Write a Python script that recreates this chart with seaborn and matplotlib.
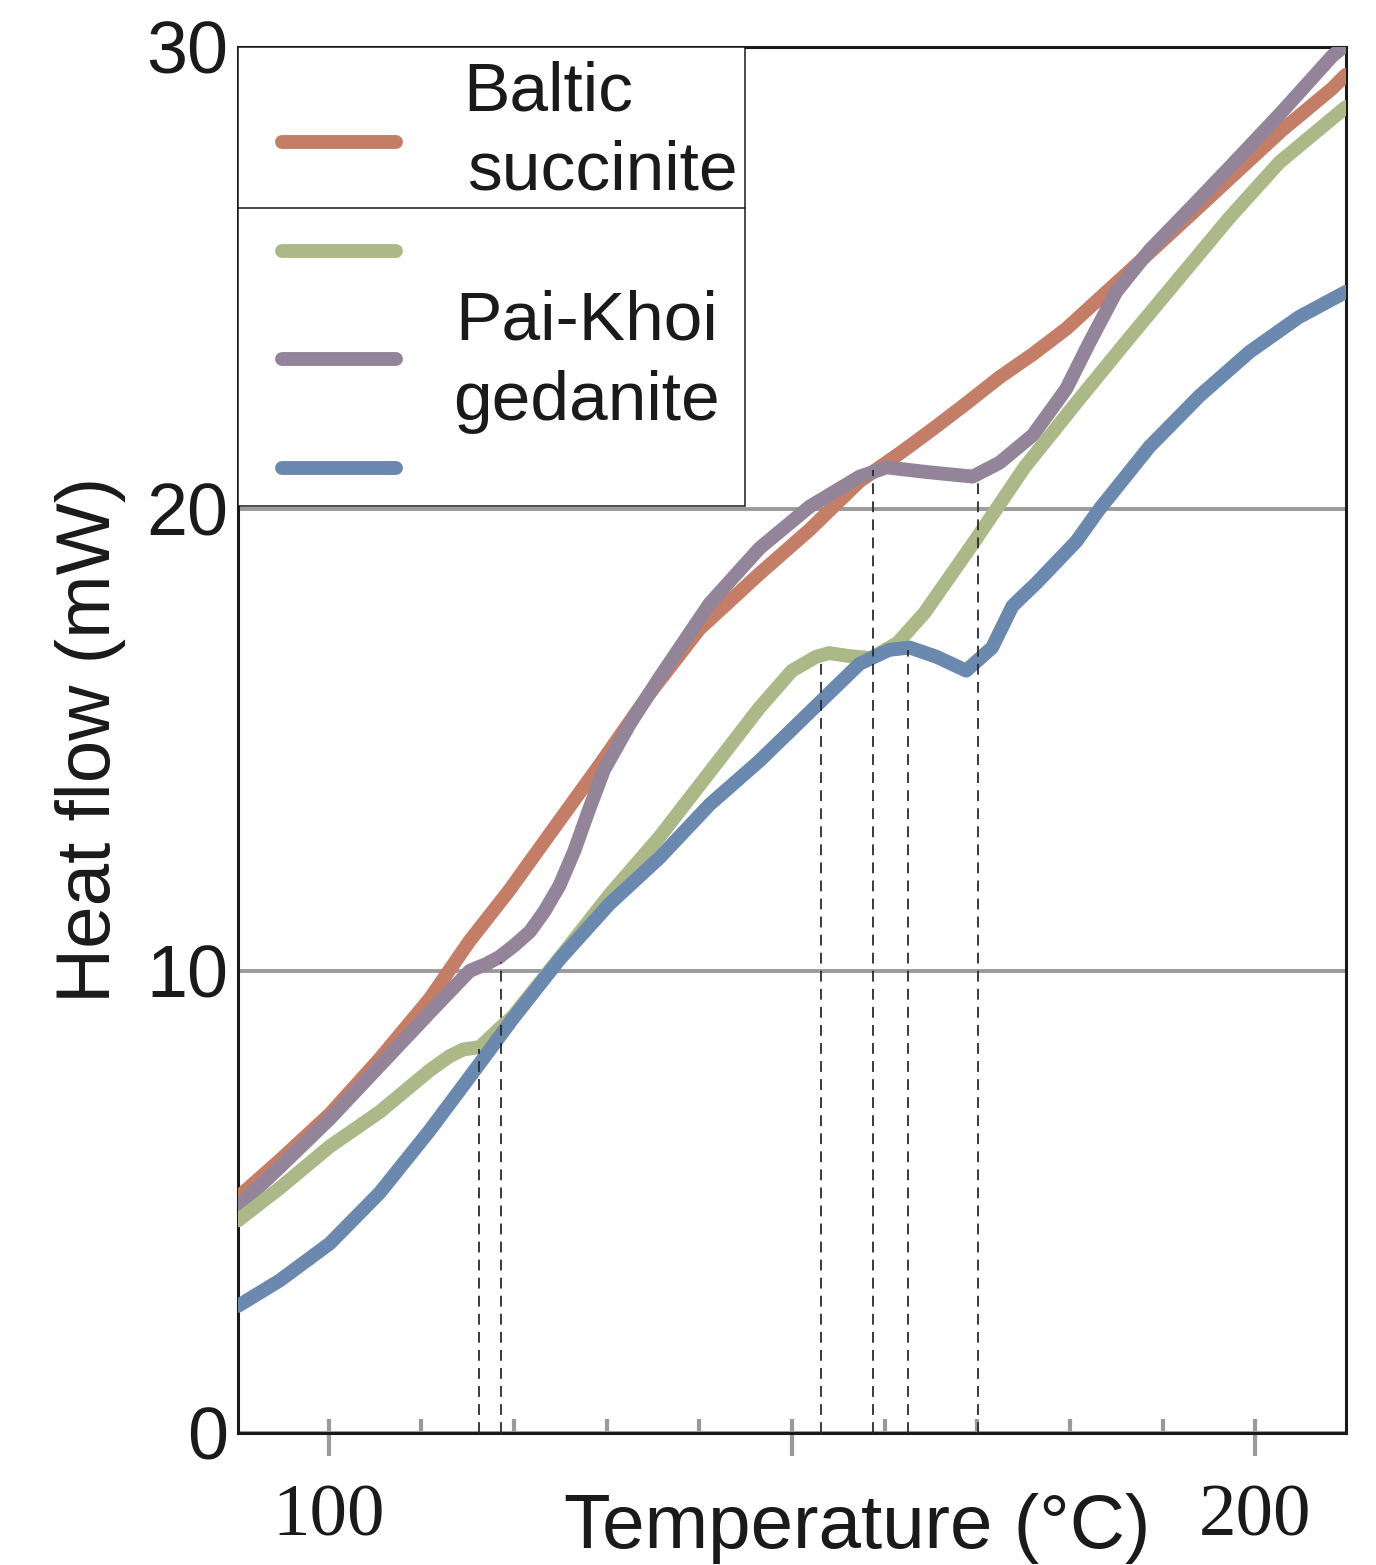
import numpy as np
import pandas as pd
import seaborn as sns
import matplotlib.pyplot as plt
from matplotlib.lines import Line2D
from matplotlib.patches import Rectangle
from matplotlib.ticker import MultipleLocator

# heat flow curves (temperature in C, heat flow in mW)
baltic_t = [90.2, 94.7, 100.1, 105.5, 110.9, 115.2, 119.5, 123.8, 129.2, 134.6, 140.0, 146.5,
            151.9, 157.3, 161.6, 165.0, 168.6, 172.4, 176.0, 179.6, 186.7, 193.2, 197.5, 202.9,
            208.3, 209.8]
baltic_hf = [5.1, 5.9, 6.9, 8.1, 9.4, 10.65, 11.75, 12.95, 14.45, 16.0, 17.4, 18.6,
             19.55, 20.6, 21.2, 21.7, 22.25, 22.85, 23.35, 23.9, 25.2, 26.4, 27.2, 28.2,
             29.1, 29.4]

purple_t = [90.2, 94.7, 100.1, 105.5, 110.9, 115.2, 117.0, 118.4, 120.0, 121.7, 123.3, 124.9,
            126.5, 128.1, 129.7, 132.5, 135.7, 141.1, 146.5, 151.9, 157.3, 160.2, 164.5, 169.5,
            172.4, 176.0, 179.6, 182.1, 185.0, 188.6, 193.2, 197.5, 202.9, 208.3, 209.8]
purple_hf = [4.9, 5.75, 6.8, 7.95, 9.1, 10.0, 10.15, 10.3, 10.55, 10.85, 11.3, 11.85,
             12.6, 13.5, 14.35, 15.35, 16.35, 17.95, 19.15, 20.05, 20.7, 20.9, 20.8, 20.7,
             21.0, 21.6, 22.6, 23.6, 24.7, 25.6, 26.55, 27.45, 28.6, 29.8, 30.05]

green_t = [90.2, 94.7, 100.1, 105.5, 110.9, 113.0, 114.5, 116.3, 118.4, 119.8, 125.0, 130.3,
           135.7, 141.1, 146.5, 150.0, 152.6, 154.0, 156.0, 158.5, 161.4, 164.3, 169.7, 175.1,
           180.9, 186.4, 191.8, 197.2, 202.6, 208.0, 209.8]
green_hf = [4.6, 5.3, 6.2, 6.95, 7.85, 8.15, 8.3, 8.35, 8.75, 9.0, 10.3, 11.65,
            12.9, 14.3, 15.7, 16.5, 16.8, 16.88, 16.82, 16.77, 17.1, 17.75, 19.3, 20.9,
            22.35, 23.7, 25.0, 26.3, 27.5, 28.4, 28.7]

blue_t = [90.2, 94.7, 100.1, 105.5, 110.9, 116.3, 119.8, 124.9, 130.3, 135.7, 141.1, 146.5,
          151.9, 157.3, 160.5, 162.7, 165.6, 168.8, 171.6, 173.8, 176.4, 180.7, 183.2, 188.6,
          194.0, 199.4, 204.7, 209.8]
blue_hf = [2.75, 3.3, 4.1, 5.2, 6.55, 8.0, 8.95, 10.25, 11.45, 12.45, 13.6, 14.55,
           15.6, 16.65, 16.95, 17.0, 16.8, 16.5, 17.0, 17.9, 18.4, 19.3, 20.0, 21.35,
           22.45, 23.4, 24.15, 24.7]

# transition markers (dashed verticals)
dash_t = [116.2, 118.6, 153.1, 158.7, 162.5, 170.1]
dash_top = [8.3, 10.2, 16.75, 20.85, 16.95, 20.6]

c_orange = "#C47D66"
c_green = "#ADB888"
c_purple = "#938499"
c_blue = "#6B88AE"

sns.set_theme(style="white")
plt.rcParams['font.family'] = ['Liberation Sans', 'DejaVu Sans']

fig = plt.figure(figsize=(13.76, 15.65), dpi=100)
ax = fig.add_axes([0.173, 0.0844, 0.8052, 0.8856])

series = [(baltic_t, baltic_hf, c_orange), (purple_t, purple_hf, c_purple),
          (green_t, green_hf, c_green), (blue_t, blue_hf, c_blue)]
for t, hf, col in series:
    sns.lineplot(x=t, y=hf, color=col, lw=10, ax=ax, solid_joinstyle='round', zorder=3)

ax.vlines(dash_t, 0, dash_top, colors='#2b2b2b', lw=1.3, linestyles=(0, (6, 4)), zorder=4)

ax.set_xlim(90.2, 209.8)
ax.set_ylim(0, 30)
ax.set_yticks([0, 10, 20, 30])
ax.set_xticks([100, 150, 200], labels=['100', '', '200'])
ax.xaxis.set_minor_locator(MultipleLocator(10))
ax.xaxis.remove_overlapping_locs = False
ax.grid(axis='y', color='#9a9a9a', lw=2.8)
ax.set_axisbelow(True)

ax.tick_params(axis='x', which='both', bottom=True, top=False)
ax.tick_params(axis='x', which='major', direction='out', length=16.5, width=3,
               color='#9a9a9a', pad=20, labelsize=54)
ax.tick_params(axis='x', which='minor', direction='in', length=10, width=3, color='#9a9a9a')
ax.tick_params(axis='y', left=False, length=0, pad=7, labelsize=53, labelcolor='#1a1a1a')
for lab in ax.get_xticklabels():
    lab.set_family('Liberation Serif')
    lab.set_color('#1a1a1a')

for sp in ax.spines.values():
    sp.set_visible(True)
    sp.set_color('#1a1a1a')
    sp.set_linewidth(2.2)

ax.set_xlabel("Temperature (°C)", fontsize=55, color='#1a1a1a')
ax.xaxis.set_label_coords(0.559, -0.043)
ax.set_ylabel("Heat flow (mW)", fontsize=55, color='#1a1a1a')
ax.yaxis.set_label_coords(-0.101, 0.5)

# legend box drawn by hand (two groups split by a rule)
box_r, box_b, rule_y = 0.4576, 0.6688, 0.8838
ax.add_patch(Rectangle((0, box_b), box_r, 1 - box_b, transform=ax.transAxes,
                       facecolor='white', edgecolor='#1a1a1a', lw=1.1, zorder=5))
ax.add_line(Line2D([0, box_r], [rule_y, rule_y], transform=ax.transAxes,
                   color='#1a1a1a', lw=1.1, zorder=6))
for yy, col in zip([0.9315, 0.8528, 0.7749, 0.6962], [c_orange, c_green, c_purple, c_blue]):
    ax.add_line(Line2D([0.0397, 0.1426], [yy, yy], transform=ax.transAxes, color=col,
                       lw=10, solid_capstyle='round', zorder=6))
for txt, xx, yy in [("Baltic", 0.2031, 0.9545), ("succinite", 0.2067, 0.8968),
                    ("Pai-Khoi", 0.1958, 0.7886), ("gedanite", 0.194, 0.7309)]:
    ax.text(xx, yy, txt, transform=ax.transAxes, fontsize=50, va='baseline',
            ha='left', color='#1a1a1a', zorder=7)

fig.savefig('out.png', dpi=100)
